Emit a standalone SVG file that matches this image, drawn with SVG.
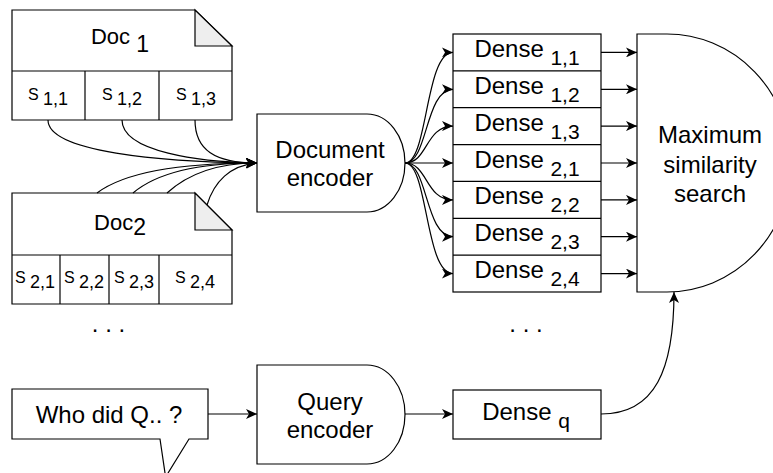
<svg xmlns="http://www.w3.org/2000/svg" width="773" height="473" viewBox="0 0 773 473">
<style>
  .box { fill: #ffffff; stroke: #000000; stroke-width: 1.2; }
  .fold { fill: #eeeeee; stroke: #000000; stroke-width: 1.2; stroke-linejoin: miter; }
  .line { fill: none; stroke: #000000; stroke-width: 1.2; }
  .edge { fill: none; stroke: #000000; stroke-width: 1.2; marker-end: url(#arrow); }
  text { font-family: "Liberation Sans", Arial, sans-serif; fill: #000000; }
  .t24 { font-size: 24px; text-anchor: middle; }
  .t22 { font-size: 22px; text-anchor: middle; }
  .t16 { font-size: 16px; text-anchor: middle; }
</style>
<defs>
  <marker id="arrow" markerUnits="userSpaceOnUse" markerWidth="11" markerHeight="10" viewBox="0 0 11 10" refX="11" refY="5" orient="auto">
    <path d="M0,0 L11,5 L0,10 L3,5 Z" fill="#000000"/>
  </marker>
</defs>
<rect width="773" height="473" fill="#ffffff"/>

<g id="doc1">
  <path class="box" d="M12,10 H195 L232,46 V120 H12 Z"/>
  <path class="fold" d="M195,10 V46 H232 Z"/>
  <line class="line" x1="12" y1="71" x2="232" y2="71"/>
  <line class="line" x1="85" y1="71" x2="85" y2="120"/>
  <line class="line" x1="159" y1="71" x2="159" y2="120"/>
  <text class="t22" x="120" y="44">Doc <tspan font-size="23" dy="8">1</tspan></text>
  <text class="t16" x="48" y="100">S <tspan font-size="18" dy="5">1,1</tspan></text>
  <text class="t16" x="122" y="100">S <tspan font-size="18" dy="5">1,2</tspan></text>
  <text class="t16" x="196" y="100">S <tspan font-size="18" dy="5">1,3</tspan></text>
</g>

<g id="doc2">
  <path class="box" d="M12,193 H195 L232,230 V304 H12 Z"/>
  <path class="fold" d="M195,193 V230 H232 Z"/>
  <line class="line" x1="12" y1="255" x2="232" y2="255"/>
  <line class="line" x1="60" y1="255" x2="60" y2="304"/>
  <line class="line" x1="109" y1="255" x2="109" y2="304"/>
  <line class="line" x1="159" y1="255" x2="159" y2="304"/>
  <text class="t22" x="120" y="230">Doc<tspan font-size="23" dy="5">2</tspan></text>
  <text class="t16" x="35" y="283">S <tspan font-size="18" dy="5">2,1</tspan></text>
  <text class="t16" x="84" y="283">S <tspan font-size="18" dy="5">2,2</tspan></text>
  <text class="t16" x="134" y="283">S <tspan font-size="18" dy="5">2,3</tspan></text>
  <text class="t16" x="195" y="283">S <tspan font-size="18" dy="5">2,4</tspan></text>
</g>

<g id="dots-left">
  <text class="t24" x="108.5" y="332">. . .</text>
</g>

<g id="doc-encoder">
  <path class="box" d="M257,114 H367 A38,49 0 0 1 367,212 H257 Z"/>
  <text class="t24" x="330" y="158">Document</text>
  <text class="t24" x="330" y="186">encoder</text>
</g>

<g id="dense-list">
  <rect class="box" x="453" y="34" width="148" height="258"/>
  <line class="line" x1="453" y1="70.9" x2="601" y2="70.9"/>
  <line class="line" x1="453" y1="107.7" x2="601" y2="107.7"/>
  <line class="line" x1="453" y1="144.6" x2="601" y2="144.6"/>
  <line class="line" x1="453" y1="181.4" x2="601" y2="181.4"/>
  <line class="line" x1="453" y1="218.3" x2="601" y2="218.3"/>
  <line class="line" x1="453" y1="255.1" x2="601" y2="255.1"/>
  <text class="t24" x="527" y="57">Dense <tspan font-size="21" dy="8">1,1</tspan></text>
  <text class="t24" x="527" y="93.9">Dense <tspan font-size="21" dy="8">1,2</tspan></text>
  <text class="t24" x="527" y="130.7">Dense <tspan font-size="21" dy="8">1,3</tspan></text>
  <text class="t24" x="527" y="167.6">Dense <tspan font-size="21" dy="8">2,1</tspan></text>
  <text class="t24" x="527" y="204.4">Dense <tspan font-size="21" dy="8">2,2</tspan></text>
  <text class="t24" x="527" y="241.3">Dense <tspan font-size="21" dy="8">2,3</tspan></text>
  <text class="t24" x="527" y="278.1">Dense <tspan font-size="21" dy="8">2,4</tspan></text>
</g>

<g id="dots-right">
  <text class="t24" x="526" y="332">. . .</text>
</g>

<g id="max-sim">
  <path class="box" d="M637,34 H667 A124,129 0 0 1 667,292 H637 Z"/>
  <text class="t24" x="710" y="143">Maximum</text>
  <text class="t24" x="710" y="173">similarity</text>
  <text class="t24" x="710" y="202">search</text>
</g>

<g id="query">
  <path class="box" d="M12,389 H208 V439 H189 L165.6,477 L160,439 H12 Z"/>
  <text class="t24" x="109" y="423">Who did Q.. ?</text>
</g>

<g id="query-encoder">
  <path class="box" d="M257,365 H367 A38,49.5 0 0 1 367,464 H257 Z"/>
  <text class="t24" x="330" y="410">Query</text>
  <text class="t24" x="330" y="438">encoder</text>
</g>

<g id="dense-q">
  <rect class="box" x="453" y="390" width="148" height="49"/>
  <text class="t24" x="526" y="420">Dense <tspan font-size="21" dy="8">q</tspan></text>
</g>

<g id="connectors">
  <path class="edge" d="M48,120 C48,152 160,162 257,163"/>
  <path class="edge" d="M122,120 C122,152 200,162 257,163"/>
  <path class="edge" d="M195,120 C195,150 215,163 257,163"/>
  <path class="edge" d="M97,193 C130,168 200,163 257,163"/>
  <path class="edge" d="M133,193 C160,170 210,163 257,163"/>
  <path class="edge" d="M167,193 C190,172 220,163 257,163"/>
  <path class="edge" d="M207,205 C214,182 230,165 257,163"/>

  <path class="edge" d="M405,163 C428,163 425,52.4 453,52.4"/>
  <path class="edge" d="M405,163 C428,163 425,89.3 453,89.3"/>
  <path class="edge" d="M405,163 C428,163 425,126.1 453,126.1"/>
  <path class="edge" d="M405,163 L453,163"/>
  <path class="edge" d="M405,163 C428,163 425,199.9 453,199.9"/>
  <path class="edge" d="M405,163 C428,163 425,236.7 453,236.7"/>
  <path class="edge" d="M405,163 C428,163 425,273.6 453,273.6"/>

  <path class="edge" d="M601,52.4 L637,52.4"/>
  <path class="edge" d="M601,89.3 L637,89.3"/>
  <path class="edge" d="M601,126.1 L637,126.1"/>
  <path class="edge" d="M601,163 L637,163"/>
  <path class="edge" d="M601,199.9 L637,199.9"/>
  <path class="edge" d="M601,236.7 L637,236.7"/>
  <path class="edge" d="M601,273.6 L637,273.6"/>

  <path class="edge" d="M208,414 L257,414"/>
  <path class="edge" d="M405,414 L453,414"/>
  <path class="edge" d="M601,414 C655,414 674,370 674,292"/>
</g>
</svg>
